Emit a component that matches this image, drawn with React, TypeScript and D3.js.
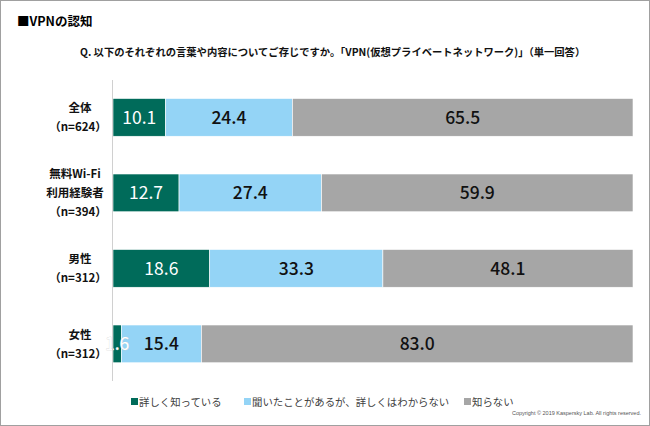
import React from "react";
import * as d3 from "d3";

const categories = ["全体", "無料Wi-Fi利用経験者", "男性", "女性"];
const categoryLines = [["全体", "（n=624）"], ["無料Wi-Fi", "利用経験者", "（n=394）"], ["男性", "（n=312）"], ["女性", "（n=312）"]];
const seriesNames = ["詳しく知っている", "聞いたことがあるが、詳しくはわからない", "知らない"];
const detailed = [10.1, 12.7, 18.6, 1.6];
const heard = [24.4, 27.4, 33.3, 15.4];
const unknown = [65.5, 59.9, 48.1, 83.0];
const colors = ["#006B5A", "#94D4F6", "#A6A6A6"];
const labelColors = ["#FFFFFF", "#111111", "#111111"];

const W = 650, H = 426;
const FONT = "'Noto Sans CJK JP', 'Noto Sans', sans-serif";

export default function App() {
  const x = d3.scaleLinear().domain([0, 100]).range([113, 633]);
  const y = d3.scaleBand<string>().domain(categories).range([60.75, 400.5]).paddingInner(0.5).paddingOuter(0.5);
  const series = [detailed, heard, unknown];
  const rows = categories.map((c, i) => ({ c, vals: series.map((s) => s[i]) }));
  const stacked = d3.stack<any>().keys(["0", "1", "2"]).value((d: any, k) => d.vals[+k])(rows as any);
  const legendX = [131, 244, 464];
  const labelCx = [80, 75, 80, 80];

  return (
    <svg width={W} height={H} style={{ position: "absolute", left: 0, top: 0, fontFamily: FONT }}>
      <rect x={0.5} y={0.5} width={W - 1} height={H - 1} fill="#fff" stroke="#A0A0A0" strokeWidth={1} />
      <text x={17} y={26} fontSize={12.5} fontWeight={700} fill="#000">■VPNの認知</text>
      <text x={80} y={56} fontSize={10.3} fontWeight={700} fill="#111">Q. 以下のそれぞれの言葉や内容についてご存じですか。「VPN(仮想プライベートネットワーク)」（単一回答）</text>
      {stacked.map((layer, si) => (
        <g key={"r" + si}>
          {layer.map((d, i) => {
            const x0 = x(d[0]), x1 = x(d[1]);
            const yy = y(categories[i])!;
            return <rect key={i} x={x0} y={yy} width={x1 - x0} height={y.bandwidth()} fill={colors[si]} stroke="#fff" strokeWidth={0.6} />;
          })}
        </g>
      ))}
      {stacked.map((layer, si) => (
        <g key={"t" + si}>
          {layer.map((d, i) => {
            const x0 = x(d[0]), x1 = x(d[1]);
            const yy = y(categories[i])!;
            const overflow = x1 - x0 < 28;
            return (
              <text key={i} x={(x0 + x1) / 2} y={yy + y.bandwidth() / 2} dy="0.36em" textAnchor="middle" fontSize={17.5} fontWeight={si === 0 ? 400 : 500} fill={labelColors[si]}
                stroke={overflow ? "#cfcfcf" : "none"} strokeWidth={overflow ? 0.5 : 0} style={{ paintOrder: "stroke" }}>
                {series[si][i].toFixed(1)}
              </text>
            );
          })}
        </g>
      ))}
      <line x1={112.5} x2={112.5} y1={80} y2={381} stroke="#D0D0D0" strokeWidth={1} />
      {categories.map((c, i) => {
        const lines = categoryLines[i];
        const cy = y(c)! + y.bandwidth() / 2;
        const lh = 19;
        const start = cy - ((lines.length - 1) * lh) / 2;
        return (
          <g key={c}>
            {lines.map((l, j) => (
              <text key={j} x={l.startsWith("（") ? 78 : labelCx[i]} y={start + j * lh} dy="0.36em" textAnchor="middle" fontSize={11.5} fontWeight={700} fill="#111">{l}</text>
            ))}
          </g>
        );
      })}
      {seriesNames.map((s, i) => (
        <g key={s}>
          <rect x={legendX[i]} y={398} width={7} height={7} fill={colors[i]} />
          <text x={legendX[i] + 8} y={402} dy="0.36em" fontSize={10.4} fill="#404040">{s}</text>
        </g>
      ))}
      <text x={641} y={415} textAnchor="end" fontSize={5.5} fill="#555" fontFamily="'Liberation Sans', Arial, sans-serif">Copyright © 2019 Kaspersky Lab. All rights reserved.</text>
    </svg>
  );
}
